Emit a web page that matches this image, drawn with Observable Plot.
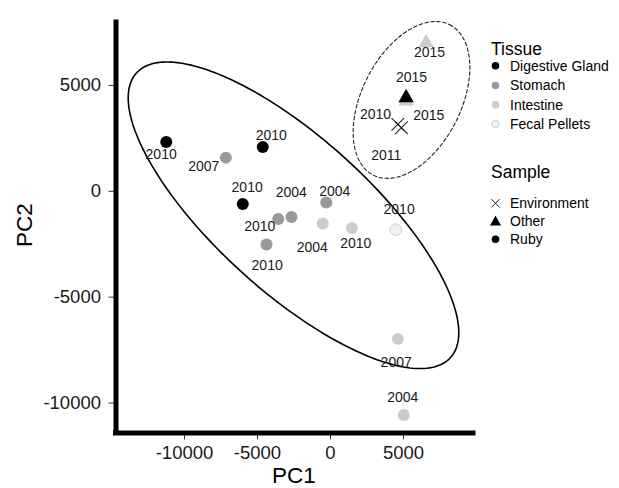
<!DOCTYPE html>
<html><head><meta charset="utf-8">
<script src="https://cdn.jsdelivr.net/npm/d3@7"></script>
<script src="https://cdn.jsdelivr.net/npm/@observablehq/plot@0.6"></script>
<style>
body{margin:0;background:#fff;}
#wrap{position:relative;width:619px;height:488px;font-family:"Liberation Sans",Arial,sans-serif;}
#wrap svg{position:absolute;left:0;top:0;}
</style></head><body><div id="wrap"></div>
<script>
// ---- data ----
const tissue = ["Digestive Gland","Digestive Gland","Digestive Gland","Stomach","Stomach","Stomach","Stomach","Stomach",
  "Intestine","Intestine","Fecal Pellets","Intestine","Intestine","Intestine","Intestine","Digestive Gland","None","None"];
const sample = ["Ruby","Ruby","Ruby","Ruby","Ruby","Ruby","Ruby","Ruby","Ruby","Ruby","Ruby","Ruby","Ruby",
  "Other","Other","Other","Environment","Environment"];
const year = ["2010","2010","2010","2007","2010","2004","2004","2010","2004","2010","2010","2007","2004","2015","2015","2015","2010","2011"];
const pc1 = [-11250,-4640,-6010,-7170,-3580,-2670,-290,-4380,-530,1460,4470,4610,5020,6550,5180,5180,4610,4860];
const pc2 = [2330,2090,-600,1590,-1310,-1210,-530,-2510,-1520,-1730,-1810,-6970,-10570,7010,4260,4420,3160,3000];
const labelPC1 = [-11600,-4060,-5710,-8680,-4840,-2690,290,-4340,-1250,1730,4700,4500,4950,6780,6730,5550,3080,3820];
const labelPC2 = [1730,2640,160,1150,-1680,-60,-30,-3520,-2660,-2470,-850,-8100,-9750,6540,3580,5390,3620,1700];

const tissueLevels = ["Digestive Gland","Stomach","Intestine","Fecal Pellets","None"];
const tissueColors = ["#000000","#999999","#cccccc","#f0f0f0","#222222"];
const sampleLevels = ["Environment","Other","Ruby"];
const xTicks = [-10000,-5000,0,5000];
const yTicks = [-10000,-5000,0,5000];

// confidence ellipses: centre, semi-axis vector 1, semi-axis vector 2 (data units)
const mainEllipse = {center:[-2534,-1132], u:[10753,-6722], v:[3543,2689]};
const groupEllipse = {center:[5548,4316], u:[2616,3552], v:[3021,-1052]};

const xDomain = [-14692, 9795];
const yDomain = [-11415, 7972];

// ---- build ----
const data = pc1.map((x,i)=>({pc1:x, pc2:pc2[i], tissue:tissue[i], sample:sample[i], year:year[i], lx:labelPC1[i], ly:labelPC2[i]}));
function ellipsePoints(e){
  const n = 240;
  return d3.range(n+1).map(i=>{const t = 2*Math.PI*i/n;
    return {pc1:e.center[0]+e.u[0]*Math.cos(t)+e.v[0]*Math.sin(t), pc2:e.center[1]+e.u[1]*Math.cos(t)+e.v[1]*Math.sin(t)};});
}
const crossSymbol = {draw(ctx, size){const r = Math.sqrt(size/Math.PI);
  ctx.moveTo(-r,-r); ctx.lineTo(r,r); ctx.moveTo(-r,r); ctx.lineTo(r,-r);}};
const font = '"Liberation Sans",Arial,sans-serif';
const ruby = data.filter(d=>d.sample==="Ruby" && d.tissue!=="Fecal Pellets");
const fecal = data.filter(d=>d.tissue==="Fecal Pellets");
const other = data.filter(d=>d.sample==="Other");
const env = data.filter(d=>d.sample==="Environment");

const plot = Plot.plot({
  width:619, height:488,
  marginLeft:115.5, marginRight:146, marginTop:22, marginBottom:55.5,
  style:{fontFamily:font, fontSize:"18.5px", background:"white", color:"#1a1a1a"},
  x:{domain:xDomain},
  y:{domain:yDomain},
  color:{type:"ordinal", domain:tissueLevels, range:tissueColors},
  marks:[
    Plot.line(ellipsePoints(mainEllipse), {x:"pc1", y:"pc2", stroke:"#000", strokeWidth:1.6}),
    Plot.line(ellipsePoints(groupEllipse), {x:"pc1", y:"pc2", stroke:"#222", strokeWidth:1.1, strokeDasharray:"3.5,2.5"}),
    Plot.dot(ruby, {x:"pc1", y:"pc2", fill:"tissue", r:6, symbol:"circle"}),
    Plot.dot(fecal, {x:"pc1", y:"pc2", fill:"tissue", r:5.8, symbol:"circle", stroke:"#c4c4c4", strokeWidth:0.8}),
    Plot.dot(other, {x:"pc1", y:"pc2", fill:"tissue", r:5.7, symbol:"triangle"}),
    Plot.dot(env, {x:"pc1", y:"pc2", fill:"none", stroke:"#222", r:6.3, symbol:crossSymbol, strokeWidth:1.1}),
    Plot.text(data, {x:"lx", y:"ly", text:"year", fontSize:14, fill:"#1a1a1a"}),
    Plot.axisX({ticks:xTicks, tickFormat:d=>String(d), tickSize:7, tickPadding:6, label:null, stroke:"#333", fill:"#1a1a1a"}),
    Plot.axisY({ticks:yTicks, tickFormat:d=>String(d), tickSize:7, tickPadding:8, label:null, stroke:"#333", fill:"#1a1a1a"}),
    Plot.ruleX([xDomain[0]], {stroke:"#000", strokeWidth:5, strokeLinecap:"square"}),
    Plot.ruleY([yDomain[0]], {stroke:"#000", strokeWidth:5, strokeLinecap:"square"})
  ]
});
const wrap = document.getElementById("wrap");
wrap.appendChild(plot);

// ---- axis titles and legends ----
const ov = d3.select(wrap).append("svg").attr("width",619).attr("height",488)
  .style("pointer-events","none").attr("font-family", font);
ov.append("text").attr("x",294).attr("y",483).attr("text-anchor","middle").attr("font-size",22.5).attr("fill","#000").text("PC1");
ov.append("text").attr("transform","translate(32,225) rotate(-90)").attr("text-anchor","middle").attr("font-size",22.5).attr("fill","#000").text("PC2");

ov.append("text").attr("x",491).attr("y",55).attr("font-size",17.5).attr("fill","#000").text("Tissue");
const tissueY = [65.7,85.5,104.8,124];
tissueLevels.slice(0,4).forEach((t,i)=>{
  ov.append("circle").attr("cx",495.5).attr("cy",tissueY[i]).attr("r",3.8)
    .attr("fill",tissueColors[i]).attr("stroke", t==="Fecal Pellets" ? "#c4c4c4" : "none").attr("stroke-width",0.8);
  ov.append("text").attr("x",510).attr("y",tissueY[i]).attr("dy","0.35em").attr("font-size",14).attr("fill","#000").text(t);
});
ov.append("text").attr("x",491).attr("y",178.3).attr("font-size",17.5).attr("fill","#000").text("Sample");
const sampleY = [203.3,221,239.3];
sampleLevels.forEach((s,i)=>{
  const y = sampleY[i];
  if (s==="Environment") {
    ov.append("path").attr("d",`M${495.5-4.2},${y-4.2}L${495.5+4.2},${y+4.2}M${495.5-4.2},${y+4.2}L${495.5+4.2},${y-4.2}`)
      .attr("stroke","#222").attr("stroke-width",1).attr("fill","none");
  } else if (s==="Other") {
    ov.append("path").attr("d",`M495.5,${y-5.5}L${495.5+5.5},${y+4.5}L${495.5-5.5},${y+4.5}Z`).attr("fill","#000");
  } else {
    ov.append("circle").attr("cx",495.5).attr("cy",y).attr("r",3.8).attr("fill","#000");
  }
  ov.append("text").attr("x",510).attr("y",y).attr("dy","0.35em").attr("font-size",14).attr("fill","#000").text(s);
});
</script></body></html>
